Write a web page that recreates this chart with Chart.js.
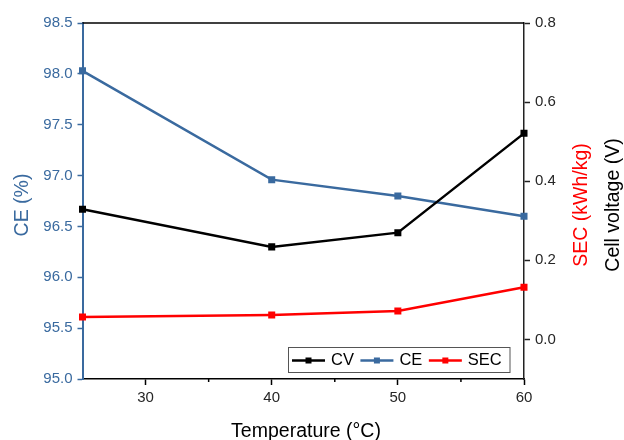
<!DOCTYPE html>
<html>
<head>
<meta charset="utf-8">
<script src="https://cdn.jsdelivr.net/npm/chart.js@4"></script>
<style>
  body { margin: 0; background: #fff; }
  canvas { display: block; }
</style>
</head>
<body>
<canvas id="chart" width="624" height="440"></canvas>
<script>
// Data
const temps = [25, 40, 50, 60];
const cellVoltage = [0.329, 0.234, 0.270, 0.521];
const coulombEff = [98.03, 96.96, 96.80, 96.60];
const secValues = [0.057, 0.062, 0.072, 0.132];

// Tick labels
const xTicks = [30, 40, 50, 60];
const xMinorTicks = [35, 45, 55];
const ceTicks = [95.0, 95.5, 96.0, 96.5, 97.0, 97.5, 98.0, 98.5];
const voltTicks = [0.0, 0.2, 0.4, 0.6, 0.8];

const BLUE = '#3a6a9f';
const RED = '#ff0000';
const BLACK = '#000000';
const DARK = '#262626';
const FONT = '"Liberation Sans", Arial, sans-serif';

const toPoints = (ys) => ys.map((y, i) => ({ x: temps[i], y: y }));

function fixedTicks(values) {
    return (scale) => { scale.ticks = values.map(v => ({ value: v })); };
}

// Axis titles, top frame, minor ticks and the in-plot legend
const decorations = {
    id: 'decorations',
    afterDraw(chart) {
        const { ctx, chartArea } = chart;
        const xs = chart.scales.x;
        ctx.save();

        // top frame line
        ctx.strokeStyle = BLACK;
        ctx.lineWidth = 1.5;
        ctx.beginPath();
        ctx.moveTo(chartArea.left, chartArea.top);
        ctx.lineTo(chartArea.right, chartArea.top);
        ctx.stroke();

        // minor ticks on x
        xMinorTicks.forEach(v => {
            const px = xs.getPixelForValue(v);
            ctx.beginPath();
            ctx.moveTo(px, chartArea.bottom);
            ctx.lineTo(px, chartArea.bottom + 3);
            ctx.stroke();
        });

        // axis titles
        ctx.font = '19.5px ' + FONT;
        ctx.textAlign = 'center';
        ctx.textBaseline = 'alphabetic';
        ctx.fillStyle = BLACK;
        ctx.fillText('Temperature (°C)', 306, 437);

        const midY = (chartArea.top + chartArea.bottom) / 2 + 4;
        const vtitle = (text, x, color) => {
            ctx.save();
            ctx.translate(x, midY);
            ctx.rotate(-Math.PI / 2);
            ctx.fillStyle = color;
            ctx.textBaseline = 'middle';
            ctx.fillText(text, 0, 0);
            ctx.restore();
        };
        vtitle('CE (%)', 23, BLUE);
        vtitle('SEC (kWh/kg)', 582, RED);
        vtitle('Cell voltage (V)', 614, BLACK);

        // legend box
        const boxL = 288, boxR = 509.5, boxT = 347, boxB = 372;
        ctx.strokeStyle = '#555';
        ctx.lineWidth = 1;
        ctx.strokeRect(boxL + 0.5, boxT + 0.5, boxR - boxL, boxB - boxT);
        ctx.font = '16.5px ' + FONT;
        ctx.textAlign = 'left';
        ctx.textBaseline = 'middle';
        const cy = (boxT + boxB) / 2 + 1;
        let x = boxL + 4;
        chart.data.datasets.forEach(ds => {
            ctx.strokeStyle = ds.borderColor;
            ctx.lineWidth = 2.5;
            ctx.beginPath();
            ctx.moveTo(x, cy);
            ctx.lineTo(x + 33, cy);
            ctx.stroke();
            ctx.fillStyle = ds.borderColor;
            ctx.fillRect(x + 16.5 - 3, cy - 3, 6, 6);
            ctx.fillStyle = BLACK;
            ctx.fillText(ds.label, x + 39, cy);
            x += 39 + ctx.measureText(ds.label).width + 6.5;
        });
        ctx.restore();
    }
};

const lineStyle = (color) => ({
    borderColor: color,
    backgroundColor: color,
    borderWidth: 2.5,
    pointStyle: 'rect',
    pointRadius: 3.2,
    pointHoverRadius: 3.2,
    tension: 0,
    clip: 6
});

new Chart(document.getElementById('chart'), {
    type: 'line',
    data: {
        datasets: [
            Object.assign({ label: 'CV', data: toPoints(cellVoltage), yAxisID: 'yV' }, lineStyle(BLACK)),
            Object.assign({ label: 'CE', data: toPoints(coulombEff), yAxisID: 'y' }, lineStyle(BLUE)),
            Object.assign({ label: 'SEC', data: toPoints(secValues), yAxisID: 'ySec' }, lineStyle(RED))
        ]
    },
    options: {
        responsive: false,
        animation: false,
        layout: { padding: { top: 23, left: 0, right: 0, bottom: 0 } },
        plugins: {
            legend: { display: false },
            tooltip: { enabled: false }
        },
        scales: {
            x: {
                type: 'linear',
                min: 25,
                max: 60,
                afterBuildTicks: fixedTicks(xTicks),
                afterFit: (s) => { s.height = 61; },
                border: { color: BLACK, width: 1.5 },
                grid: { drawOnChartArea: false, tickLength: 6, tickColor: BLACK, tickWidth: 1.5 },
                ticks: { color: DARK, padding: 4, font: { family: FONT, size: 15 } }
            },
            y: {
                position: 'left',
                min: 95.0,
                max: 98.5,
                afterBuildTicks: fixedTicks(ceTicks),
                afterFit: (s) => { s.width = 82.5; },
                border: { color: BLUE, width: 2 },
                grid: { drawOnChartArea: false, tickLength: 5, tickColor: BLUE, tickWidth: 1.5 },
                ticks: {
                    color: BLUE, padding: 5, font: { family: FONT, size: 15 },
                    callback: (v) => v.toFixed(1)
                }
            },
            yV: {
                position: 'right',
                min: -0.1,
                max: 0.8,
                afterBuildTicks: fixedTicks(voltTicks),
                afterFit: (s) => { s.width = 100; },
                border: { color: '#222', width: 1.5 },
                grid: { drawOnChartArea: false, tickLength: 6, tickColor: '#222', tickWidth: 1.5 },
                ticks: {
                    color: DARK, padding: 5, font: { family: FONT, size: 15 },
                    callback: (v) => v.toFixed(1)
                }
            },
            ySec: {
                display: false,
                min: -0.1,
                max: 0.8
            }
        }
    },
    plugins: [decorations]
});
</script>
</body>
</html>
